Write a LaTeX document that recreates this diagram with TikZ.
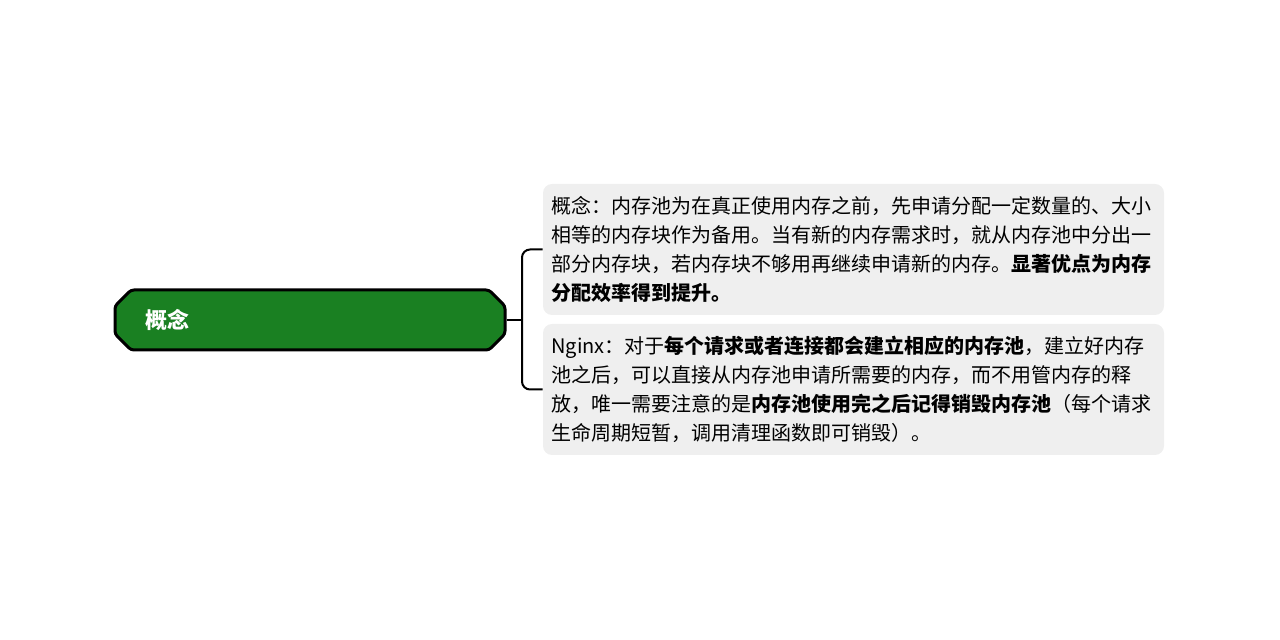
\documentclass[tikz,border=0pt]{standalone}
\usepackage{fontspec}
\setmainfont{Noto Sans CJK SC}
\usetikzlibrary{shapes.misc}
\definecolor{topicgreen}{RGB}{26,128,34}
\definecolor{notegray}{RGB}{239,239,239}
\begin{document}
\begin{tikzpicture}[x=0.5pt,y=-0.5pt, line join=round,
  topic/.style={chamfered rectangle, chamfered rectangle xsep=4pt, chamfered rectangle ysep=4pt,
    rounded corners=1.5pt, draw=black, line width=1.5pt, fill=topicgreen, text=white,
    font=\fontsize{11}{13}\selectfont\bfseries, minimum width=187pt, minimum height=30pt,
    inner xsep=11pt, text width=165pt, align=left},
  note/.style={rectangle, rounded corners=4.5pt, fill=notegray, minimum width=310.5pt,
    minimum height=65.5pt, inner xsep=4.25pt, text width=302pt, align=left,
    font=\fontsize{10}{14.5}\selectfont},
  link/.style={line width=1pt, rounded corners=4pt}]
\useasboundingbox (0,0) rectangle (1280,640);
\node[topic] (concept) at (310,320) {概念};
\node[note] (define) at (853.5,249.5) {概念：内存池为在真正使用内存之前，先申请分配一定数量的、大小\\
相等的内存块作为备用。当有新的内存需求时，就从内存池中分出一\\
部分内存块，若内存块不够用再继续申请新的内存。\textbf{显著优点为内存}\\
\textbf{分配效率得到提升。}};
\node[note] (nginx) at (853.5,389.5) {Nginx：对于\textbf{每个请求或者连接都会建立相应的内存池}，建立好内存\\
池之后，可以直接从内存池申请所需要的内存，而不用管内存的释\\
放，唯一需要注意的是\textbf{内存池使用完之后记得销毁内存池}（每个请求\\
生命周期短暂，调用清理函数即可销毁）。};
\coordinate (fork) at (522,320);
\draw[link] (concept.east) -- (fork);
\draw[link] (define.west) -| (fork) |- (nginx.west);
\end{tikzpicture}
\end{document}
